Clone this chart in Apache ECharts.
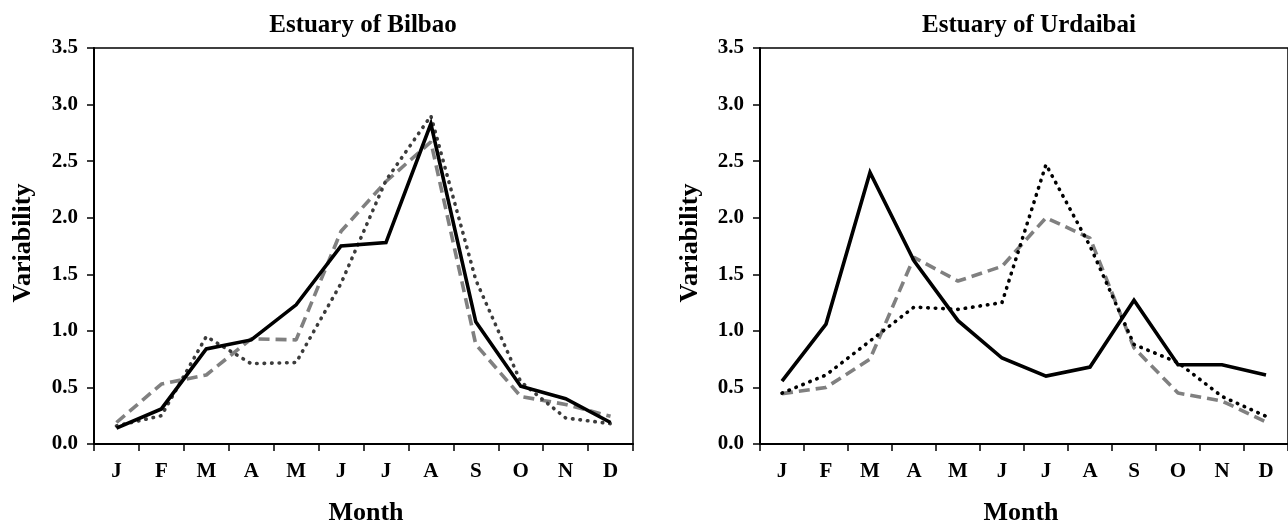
<!DOCTYPE html>
<html>
<head>
<meta charset="utf-8">
<script src="https://cdn.jsdelivr.net/npm/echarts@6/dist/echarts.min.js"></script>
<style>
  html, body { margin: 0; padding: 0; background: #fff; }
  #chart { width: 1288px; height: 524px; }
</style>
</head>
<body>
<div id="chart"></div>
<script>
// Month initials along the x axis
const months = ['J', 'F', 'M', 'A', 'M', 'J', 'J', 'A', 'S', 'O', 'N', 'D'];
const yTicks = [0, 0.5, 1.0, 1.5, 2.0, 2.5, 3.0, 3.5];

// Estuary of Bilbao
const bilbaoSolid  = [0.14, 0.31, 0.84, 0.92, 1.23, 1.75, 1.78, 2.83, 1.08, 0.51, 0.40, 0.19];
const bilbaoDashed = [0.19, 0.53, 0.61, 0.93, 0.92, 1.88, 2.32, 2.67, 0.88, 0.42, 0.35, 0.245];
const bilbaoDotted = [0.16, 0.25, 0.95, 0.71, 0.72, 1.42, 2.33, 2.90, 1.45, 0.55, 0.23, 0.18];

// Estuary of Urdaibai
const urdaibaiSolid  = [0.555, 1.06, 2.40, 1.62, 1.09, 0.76, 0.60, 0.68, 1.27, 0.70, 0.70, 0.61];
const urdaibaiDashed = [0.445, 0.50, 0.75, 1.65, 1.44, 1.57, 2.00, 1.82, 0.85, 0.45, 0.38, 0.195];
const urdaibaiDotted = [0.45, 0.61, 0.91, 1.21, 1.19, 1.25, 2.47, 1.75, 0.88, 0.72, 0.42, 0.245];

const FONT = '"Liberation Serif", "Times New Roman", serif';

function xAxisFor(gridIndex) {
  return {
    type: 'category',
    gridIndex: gridIndex,
    data: months,
    boundaryGap: true,
    axisLine: { show: true, lineStyle: { color: '#000', width: 2 } },
    axisTick: { show: true, length: 7, lineStyle: { color: '#000', width: 1.5 } },
    axisLabel: { margin: 17, color: '#000', fontFamily: FONT, fontWeight: 'bold', fontSize: 21 },
    splitLine: { show: false }
  };
}

function yAxisFor(gridIndex) {
  return {
    type: 'value',
    gridIndex: gridIndex,
    min: yTicks[0],
    max: yTicks[yTicks.length - 1],
    interval: 0.5,
    axisLine: { show: true, lineStyle: { color: '#000', width: 2 } },
    axisTick: { show: true, length: 7, lineStyle: { color: '#000', width: 1.5 } },
    axisLabel: {
      margin: 16, color: '#000', fontFamily: FONT, fontWeight: 'bold', fontSize: 21,
      formatter: function (v) { return v.toFixed(1); }
    },
    splitLine: { show: false }
  };
}

function lineSeries(name, idx, data, style) {
  return {
    name: name,
    type: 'line',
    xAxisIndex: idx,
    yAxisIndex: idx,
    data: data,
    symbol: 'none',
    showSymbol: false,
    silent: true,
    animation: false,
    lineStyle: style
  };
}

const solidStyle = { color: '#000', width: 3.6, type: 'solid', join: 'miter' };
const dashedStyle = { color: '#808080', width: 3.6, type: [11, 6] };
const dottedGrey = { color: '#3c3c3c', width: 3.6, type: [0.5, 7], cap: 'round' };
const dottedBlack = { color: '#000', width: 3.6, type: [0.5, 7], cap: 'round' };

function label(text, x, y, size, rotate) {
  return {
    type: 'text',
    x: x, y: y,
    rotation: rotate ? Math.PI / 2 : 0,
    silent: true,
    style: {
      text: text,
      font: 'bold ' + size + 'px ' + FONT,
      fill: '#000',
      align: 'center', verticalAlign: 'middle',
      textAlign: 'center', textVerticalAlign: 'middle'
    }
  };
}

const chart = echarts.init(document.getElementById('chart'), null, { renderer: 'canvas' });
chart.setOption({
  backgroundColor: '#fff',
  animation: false,
  grid: [
    { left: 94, top: 48, width: 539, height: 396, show: true, borderColor: '#000', borderWidth: 1.5, backgroundColor: 'transparent' },
    { left: 760, top: 48, width: 538, height: 396, show: true, borderColor: '#000', borderWidth: 1.5, backgroundColor: 'transparent' }
  ],
  xAxis: [xAxisFor(0), xAxisFor(1)],
  yAxis: [yAxisFor(0), yAxisFor(1)],
  series: [
    lineSeries('line2', 0, bilbaoDashed, dashedStyle),
    lineSeries('line3', 0, bilbaoDotted, dottedGrey),
    lineSeries('line1', 0, bilbaoSolid, solidStyle),
    lineSeries('line2', 1, urdaibaiDashed, dashedStyle),
    lineSeries('line3', 1, urdaibaiDotted, dottedBlack),
    lineSeries('line1', 1, urdaibaiSolid, solidStyle)
  ],
  graphic: [
    label('Estuary of Bilbao', 363, 26, 25, false),
    label('Estuary of Urdaibai', 1029, 26, 25, false),
    label('Variability', 23, 243, 26, true),
    label('Variability', 690, 243, 26, true),
    label('Month', 366, 513, 26, false),
    label('Month', 1021, 513, 26, false)
  ]
});
</script>
</body>
</html>
